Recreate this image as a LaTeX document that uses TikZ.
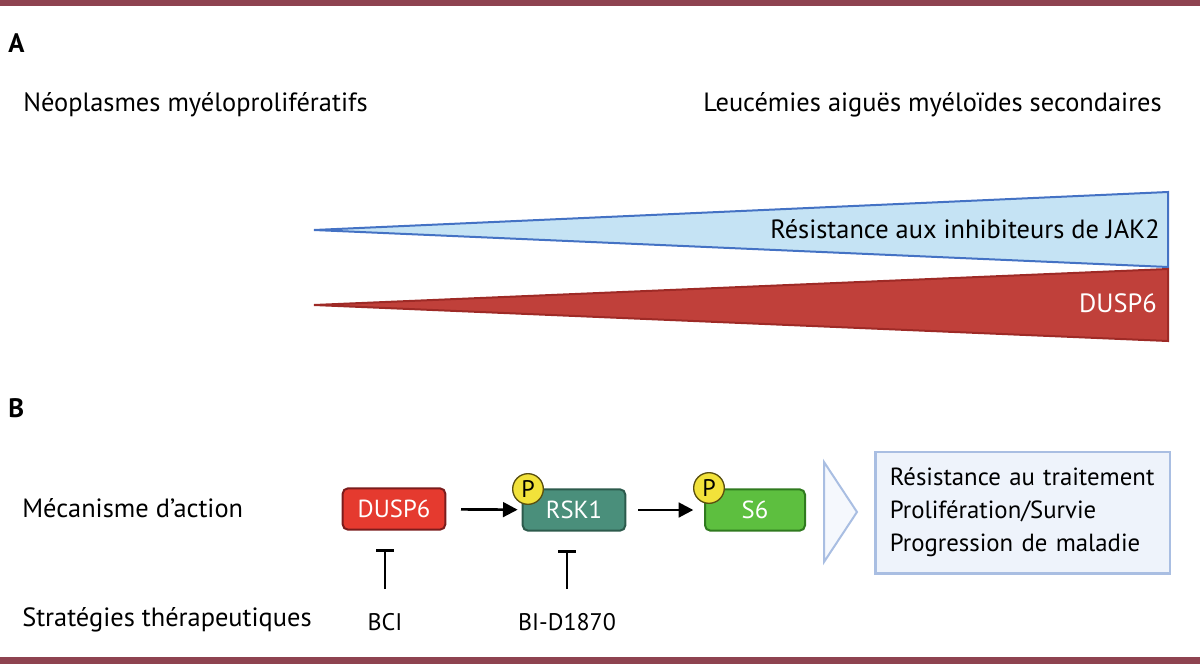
\documentclass[tikz,border=0pt]{standalone}
\usepackage{fontspec}
\setmainfont{PT Sans}
\usetikzlibrary{positioning,arrows.meta}

\definecolor{barcol}{HTML}{8E4350}
\definecolor{jakfill}{HTML}{C5E3F4}
\definecolor{jakline}{HTML}{4472C4}
\definecolor{duspfill}{HTML}{C0403A}
\definecolor{duspline}{HTML}{9E2A26}
\definecolor{boxred}{HTML}{E53A2F}
\definecolor{boxredline}{HTML}{7B1C1C}
\definecolor{boxteal}{HTML}{4A8F7B}
\definecolor{boxtealline}{HTML}{2C5A4C}
\definecolor{boxgreen}{HTML}{5DBF3F}
\definecolor{boxgreenline}{HTML}{2F7A1E}
\definecolor{phosfill}{HTML}{F2E23A}
\definecolor{phosline}{HTML}{5A5010}
\definecolor{outfill}{HTML}{EEF3FB}
\definecolor{outline}{HTML}{A9BEE2}

\tikzset{
  txt/.style={inner sep=0pt, font=\fontsize{19.8}{23}\selectfont},
  drug/.style={inner sep=0pt, font=\fontsize{18}{21}\selectfont},
  panel/.style={inner sep=0pt, font=\bfseries\fontsize{20}{22}\selectfont},
  prot/.style={draw, line width=1.5pt, rounded corners=4pt, minimum width=77pt,
    minimum height=31pt, inner sep=0pt, text=white, font=\fontsize{18.5}{21}\selectfont},
  phos/.style={circle, draw=phosline, fill=phosfill, line width=1pt, minimum size=23pt,
    inner sep=0pt, font=\fontsize{18}{21}\selectfont},
  act/.style={-{Triangle[length=11pt,width=11pt]}, line width=2pt},
  inhib/.style={-{Bar[width=13.5pt]}, line width=2pt},
}

\begin{document}
\begin{tikzpicture}[x=0.75pt, y=-0.75pt]
\useasboundingbox (0,0) rectangle (1200,664);

% Bars
\fill[barcol] (0,0) rectangle (1200,6);
\fill[barcol] (0,657) rectangle (1200,664);

% Panel A
\node[panel, anchor=base west] (lblA) at (8,52) {A};
\node[txt, anchor=base west] (mpn) at (23,111) {Néoplasmes myéloprolifératifs};
\node[txt, anchor=base east] (lam) at (1162,111) {Leucémies aiguës myéloïdes secondaires};

\draw[jakline, fill=jakfill, line width=1.5pt] (314,230) -- (1168,192) -- (1168,267) -- cycle;
\draw[duspline, fill=duspfill, line width=1.5pt] (314,305) -- (1168,269) -- (1168,341) -- cycle;
\node[txt, anchor=east] (resist) at (1160,229) {Résistance aux inhibiteurs de JAK2};
\node[txt, anchor=east, text=white] (duspA) at (1157,303) {DUSP6};

% Panel B
\node[panel, anchor=base west] (lblB) at (8,417) {B};
\node[txt, anchor=west] (meca) at (22,508) {Mécanisme d’action};
\node[txt, anchor=west] (strat) at (22,620) {Stratégies thérapeutiques};

\node[prot, fill=boxred, draw=boxredline] (dusp) at (394,509) {DUSP6};
\node[prot, fill=boxteal, draw=boxtealline] (rsk) at (574,510) {RSK1};
\node[prot, fill=boxgreen, draw=boxgreenline, minimum width=75pt] (s6) at (755,510) {S6};
\node[phos] (prsk) at (528,489) {P};
\node[phos] (ps6) at (709,488) {P};

\draw[act, shorten <=11pt, shorten >=3pt] (dusp) -- (rsk);
\draw[act, shorten <=9pt, shorten >=8pt] (rsk) -- (s6);

\node[drug] (bci) at (385,622) {BCI};
\node[drug] (bid) at (567,622) {BI-D1870};
\draw[inhib, shorten <=18pt, shorten >=14pt] (bci.north) -- (bci.north |- dusp.south);
\draw[inhib, shorten <=18pt, shorten >=14pt] (bid.north) -- (bid.north |- rsk.south);

% Outcome
\draw[outline, fill=outfill!60, line width=1.5pt] (824,462) -- (857,512) -- (824,562) -- cycle;
\node[draw=outline, fill=outfill, line width=2pt, minimum width=221pt, minimum height=91pt,
  text width=199pt, align=left, inner xsep=11pt, font=\fontsize{18.6}{24.7}\selectfont]
  (effects) at (1022.5,512.5)
  {Résistance au traitement\\Prolifération/Survie\\Progression de maladie};

\end{tikzpicture}
\end{document}
